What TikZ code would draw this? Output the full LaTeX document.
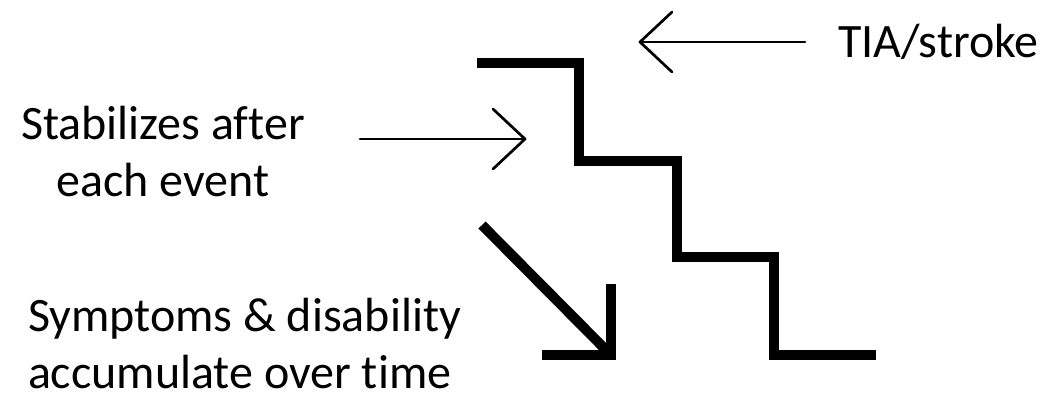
\documentclass[tikz,border=0pt]{standalone}
\usepackage{fontspec}
\setmainfont{Carlito}[RawFeature=-liga]
\usetikzlibrary{calc}
\begin{document}
\begin{tikzpicture}[x=1pt,y=-1pt,
  label/.style={inner sep=0pt,outer sep=0pt,font=\fontsize{48}{57}\selectfont},
  stair/.style={line width=10pt,line join=miter,line cap=butt},
  thin arrow/.style={line width=2.7pt,line join=round,line cap=round},
  bold arrow/.style={line width=10pt,line join=miter,line cap=butt}]
\useasboundingbox (0,0) rectangle (1046,396);

% labels
\node[label,anchor=base west] (tia) at (838,57) {TIA/stroke};
\node[label,align=center,anchor=south] (stab) at (163,197) {Stabilizes after\\each event};
\node[label,align=left,anchor=south west] (symp) at (28,389) {Symptoms \& disability\\accumulate over time};

% staircase
\coordinate (s0) at (477,63);
\coordinate (s1) at (579,63);
\coordinate (s2) at (579,161);
\coordinate (s3) at (677,161);
\coordinate (s4) at (677,257);
\coordinate (s5) at (774,257);
\coordinate (s6) at (774,355);
\coordinate (s7) at (876,355);
\draw[stair] (s0) -- (s1) -- (s2) -- (s3) -- (s4) -- (s5) -- (s6) -- (s7);

% event arrow
\coordinate (tiaTail) at (805,42);
\coordinate (tiaTip) at (640,42);
\draw[thin arrow] (tiaTail) -- (tiaTip);
\draw[thin arrow] (tiaTip) ++(32,-30) -- (tiaTip) -- ++(32,30);

% plateau arrow
\coordinate (stabTail) at (360,139);
\coordinate (stabTip) at (525,139);
\draw[thin arrow] (stabTail) -- (stabTip);
\draw[thin arrow] (stabTip) ++(-32,-30) -- (stabTip) -- ++(-32,30);

% accumulation arrow
\coordinate (accTail) at (482,225);
\coordinate (accTip) at (611,355);
\draw[bold arrow] (accTail) -- ($(accTip)+(-4,-4)$);
\draw[bold arrow] (542,355) -- (accTip) -- (611,284);
\end{tikzpicture}
\end{document}
